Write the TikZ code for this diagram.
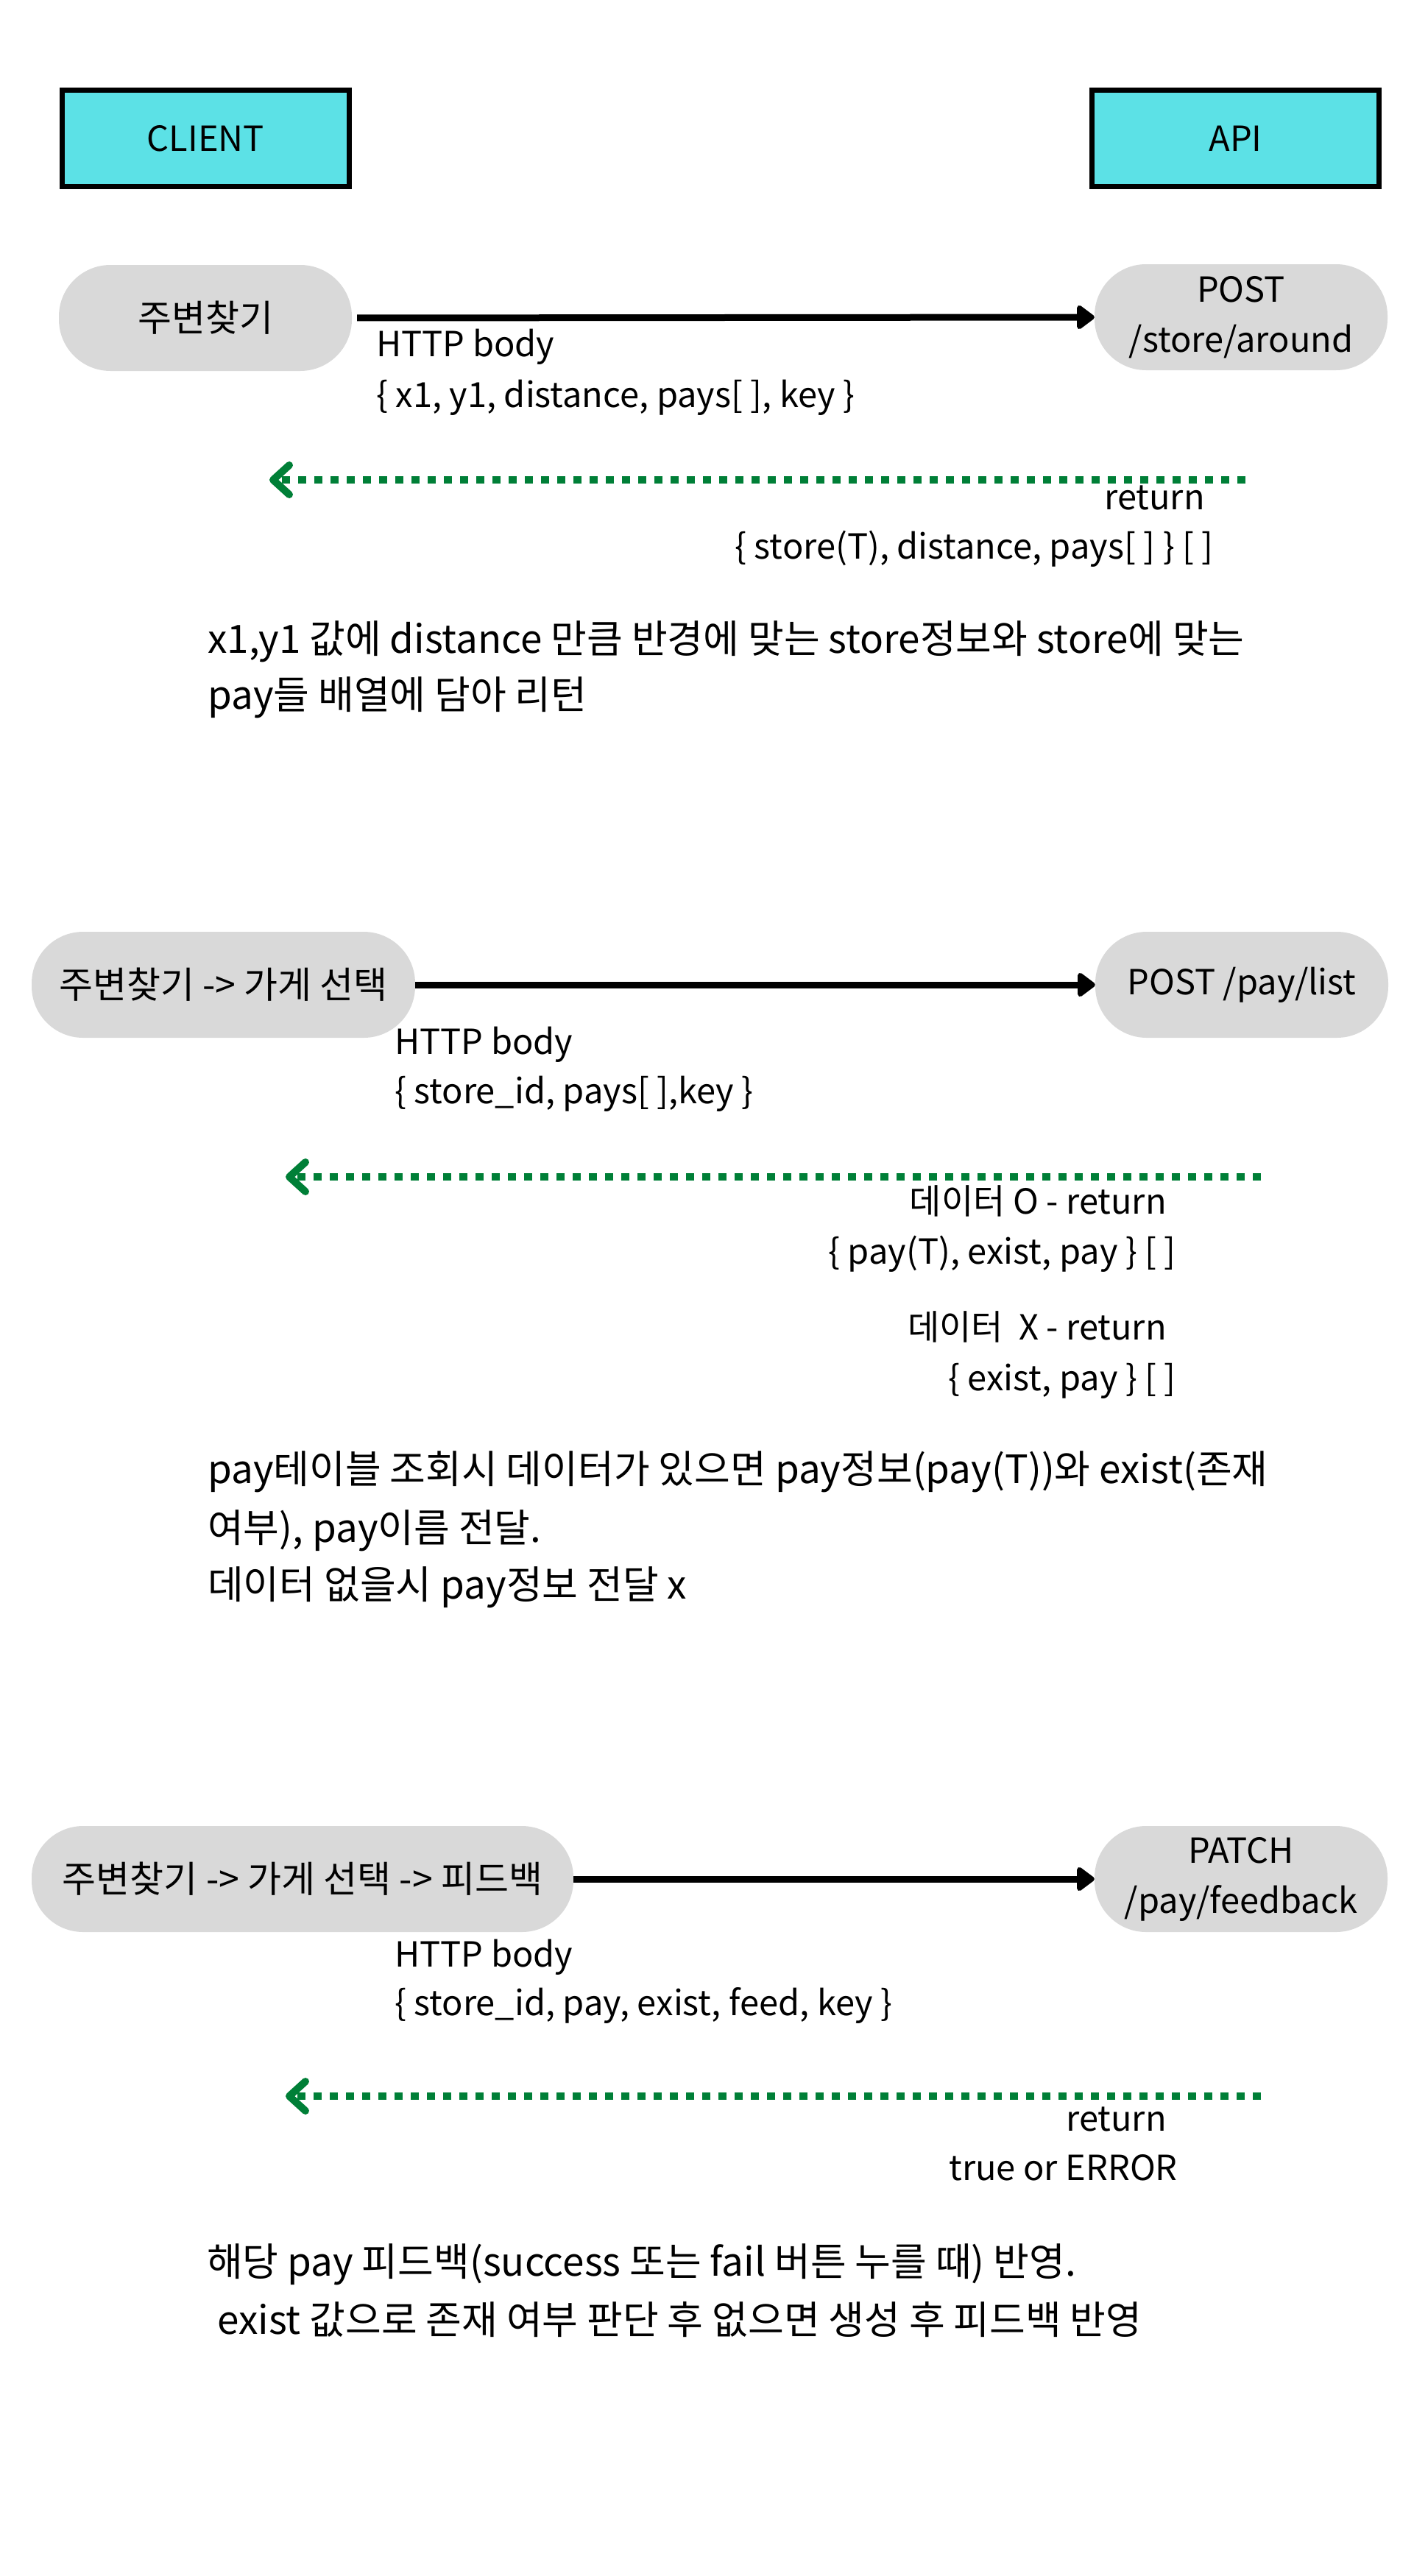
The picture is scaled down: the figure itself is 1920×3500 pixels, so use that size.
\documentclass[tikz,border=0pt]{standalone}
\usepackage{fontspec}
\setmainfont{Noto Sans CJK KR}
\usetikzlibrary{arrows.meta}
\definecolor{boxcyan}{HTML}{5CE1E6}
\definecolor{pillgray}{HTML}{D9D9D9}
\definecolor{retgreen}{HTML}{007F37}
\begin{document}
\begin{tikzpicture}[x=1pt,y=-1pt,
 txt/.style={inner sep=0pt, font=\fontsize{47}{68}\selectfont},
 desc/.style={inner sep=0pt, font=\fontsize{53}{76}\selectfont},
 header/.style={draw=black, line width=7pt, fill=boxcyan, minimum width=390pt, minimum height=131pt, inner sep=0pt, font=\fontsize{47}{68}\selectfont},
 pill/.style={fill=pillgray, rounded corners=70pt, minimum height=144pt, inner sep=0pt, align=center, font=\fontsize{47}{68}\selectfont},
 krpill/.style={pill, font=\fontsize{50}{68}\selectfont},
 callarrow/.style={line width=9pt, -{Triangle[length=26pt,width=37pt,round]}},
 retarrow/.style={retgreen, line width=10pt, dash pattern=on 11pt off 11pt, -{Straight Barb[length=22pt,width=40pt,round]}}
]
\fill[white] (0,0) rectangle (1920,3500);
\useasboundingbox (0,0) rectangle (1920,3500);

% headers
\node[header] (client) at (279.5,188) {CLIENT};
\node[header] (api) at (1678.5,188) {API};

% section 1
\node[krpill, minimum width=398pt] (s1l) at (279,432) {주변찾기};
\node[pill, minimum width=398pt] (s1r) at (1686,431) {POST\\/store/around};
\draw[callarrow, shorten <=7pt] (s1l.east) -- (s1r.west);
\node[txt, anchor=base west] (b1h) at (511,484) {HTTP body};
\node[txt, anchor=base west] (b1b) at (511,553) {\{ x1, y1, distance, pays[ ], key \}};
\coordinate (g1s) at (1692,652);
\coordinate (g1e) at (366,652);
\draw[retarrow] (g1s) -- (g1e);
\node[txt, anchor=base east] (r1a) at (1637,692) {return};
\node[txt, anchor=base east] (r1b) at (1649,759) {\{ store(T), distance, pays[ ] \} [ ]};
\node[desc, anchor=base west] (d1a) at (282,887) {x1,y1 값에 distance 만큼 반경에 맞는 store정보와 store에 맞는};
\node[desc, anchor=base west] (d1b) at (282,963) {pay들 배열에 담아 리턴};

% section 2
\node[krpill, minimum width=521pt] (s2l) at (303.5,1338) {주변찾기 -> 가게 선택};
\node[pill, minimum width=398pt] (s2r) at (1687,1338) {POST /pay/list};
\draw[callarrow] (s2l.east) -- (s2r.west);
\node[txt, anchor=base west] (b2h) at (536,1432) {HTTP body};
\node[txt, anchor=base west] (b2b) at (536,1499) {\{ store\_id, pays[ ],key \}};
\coordinate (g2s) at (1713,1599);
\coordinate (g2e) at (388,1599);
\draw[retarrow] (g2s) -- (g2e);
\node[txt, anchor=base east] (r2a) at (1585,1649) {데이터 O - return};
\node[txt, anchor=base east] (r2b) at (1598,1717) {\{ pay(T), exist, pay \} [ ]};
\node[txt, anchor=base east] (r2c) at (1585,1820) {데이터\ \ X - return};
\node[txt, anchor=base east] (r2d) at (1598,1889) {\{ exist, pay \} [ ]};
\node[desc, anchor=base west] (d2a) at (282,2015) {pay테이블 조회시 데이터가 있으면 pay정보(pay(T))와 exist(존재};
\node[desc, anchor=base west] (d2b) at (282,2095) {여부), pay이름 전달.};
\node[desc, anchor=base west] (d2c) at (282,2172) {데이터 없을시 pay정보 전달 x};

% section 3
\node[krpill, minimum width=736pt] (s3l) at (411,2553) {주변찾기 -> 가게 선택 -> 피드백};
\node[pill, minimum width=398pt] (s3r) at (1686,2553) {PATCH\\/pay/feedback};
\draw[callarrow] (s3l.east) -- (s3r.west);
\node[txt, anchor=base west] (b3h) at (536,2672) {HTTP body};
\node[txt, anchor=base west] (b3b) at (536,2738) {\{ store\_id, pay, exist, feed, key \}};
\coordinate (g3s) at (1713,2848);
\coordinate (g3e) at (388,2848);
\draw[retarrow] (g3s) -- (g3e);
\node[txt, anchor=base east] (r3a) at (1585,2895) {return};
\node[txt, anchor=base east] (r3b) at (1600,2962) {true or ERROR};
\node[desc, anchor=base west] (d3a) at (281,3092) {해당 pay 피드백(success 또는 fail 버튼 누를 때) 반영.};
\node[desc, anchor=base west] (d3b) at (295,3171) {exist 값으로 존재 여부 판단 후 없으면 생성 후 피드백 반영};
\end{tikzpicture}
\end{document}
